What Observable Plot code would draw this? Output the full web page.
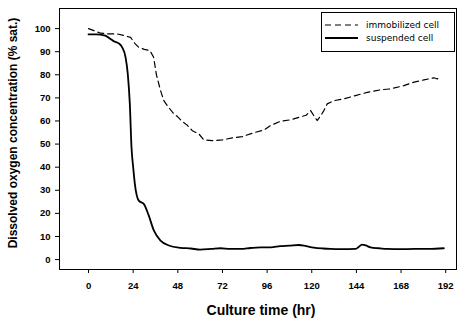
<!DOCTYPE html>
<html><head><meta charset="utf-8">
<script src="https://cdn.jsdelivr.net/npm/d3@7"></script>
<script src="https://cdn.jsdelivr.net/npm/@observablehq/plot@0.6"></script>
<style>body{margin:0;background:#fff} svg{display:block}</style>
</head><body><div id="chart"></div>
<script>
const seriesNames = ["immobilized cell", "suspended cell"];
const xTicks = [0, 24, 48, 72, 96, 120, 144, 168, 192];
const yTicks = [0, 10, 20, 30, 40, 50, 60, 70, 80, 90, 100];
const xTitle = "Culture time (hr)";
const yTitle = "Dissolved oxygen concentration (% sat.)";

const immobilizedTime = [0, 2.9, 6.5, 10.9, 15.4, 19, 22.6, 25, 27, 30, 33, 35, 36.5, 38.7, 40.5, 42.3, 45.9, 47.7, 50.4, 53, 55.8, 59.3, 62, 66.5, 71.9, 77.3, 82.6, 88, 94.3, 97.8, 103.2, 108.6, 114, 117, 119.4, 121.1, 122.9, 125, 126.5, 128.3, 131.9, 137.3, 143.5, 149.8, 157, 162.4, 169.5, 175, 180.3, 185.7, 187.5, 189];
const immobilizedValue = [100, 99.1, 98, 97.7, 97.7, 97, 96.2, 93.5, 91.9, 91, 90.5, 87.6, 80, 73.2, 68.8, 66.7, 63, 62, 59.8, 58.2, 55.8, 54.4, 51.8, 51.5, 51.8, 52.7, 53.2, 54.7, 56.1, 58, 59.9, 60.5, 61.8, 62.5, 64.5, 62.3, 60.2, 62.5, 64.5, 67.4, 68.8, 69.6, 71, 72.4, 73.5, 73.9, 75.3, 76.8, 77.8, 78.7, 78.2, 79];

const suspendedTime = [0, 4, 9, 11.8, 13.6, 16.3, 18.1, 19.9, 21.1, 22.2, 23.1, 24, 24.9, 27, 29.7, 32.4, 35.1, 38.7, 43.2, 49.5, 55, 60, 66, 71, 76, 82, 87, 92.5, 98, 103, 108, 113, 117, 121, 126, 130, 136, 143.5, 145, 147, 149, 151.6, 156, 160.6, 168, 175, 183, 191];
const suspendedValue = [97.5, 97.5, 97, 95.5, 94.5, 93.6, 91.9, 87.6, 80.4, 67.4, 48.6, 40, 32.8, 25.5, 24.1, 19, 12.6, 8.2, 6.1, 5.1, 4.8, 4.3, 4.6, 4.9, 4.6, 4.6, 5, 5.3, 5.3, 5.8, 6, 6.3, 5.8, 5.2, 4.8, 4.6, 4.5, 4.6, 5.3, 6.5, 6.1, 5.3, 4.9, 4.6, 4.5, 4.6, 4.6, 4.9];

const immobilized = immobilizedTime.map((t, i) => ({t, v: immobilizedValue[i]}));
const suspended = suspendedTime.map((t, i) => ({t, v: suspendedValue[i]}));

const chart = Plot.plot({
  width: 457, height: 322,
  marginLeft: 59, marginRight: 1, marginTop: 8, marginBottom: 53,
  style: {fontFamily: "'Liberation Sans', Arial, sans-serif", background: "#fff", color: "#000"},
  x: {domain: [-15.6, 197.8]},
  y: {domain: [-4.3, 108.7]},
  marks: [
    Plot.frame({stroke: "#000", strokeWidth: 1}),
    Plot.axisY(yTicks, {tickSize: 4, tickPadding: 5, fontSize: 9.5, fontWeight: "bold", label: null}),
    Plot.axisX(xTicks, {tickSize: 4, tickPadding: 9, fontSize: 9.5, fontWeight: "bold", label: null}),
    Plot.line(immobilized, {x: "t", y: "v", stroke: "#000", strokeWidth: 1.2, strokeDasharray: "6,4"}),
    Plot.line(suspended, {x: "t", y: "v", stroke: "#000", strokeWidth: 1.8, curve: "monotone-x"}),
    Plot.text([yTitle], {frameAnchor: "left", textAnchor: "middle", lineAnchor: "middle", dx: -46, dy: -6, rotate: -90, fontSize: 12, fontWeight: "bold"}),
    Plot.text([xTitle], {frameAnchor: "bottom", textAnchor: "middle", lineAnchor: "middle", dx: 3, dy: 41, fontSize: 14, fontWeight: "bold"})
  ]
});
document.getElementById("chart").appendChild(chart);

// legend box
const svg = d3.select(chart);
const g = svg.append("g").attr("font-family", "'DejaVu Sans', sans-serif")
  .attr("font-size", 9).attr("text-anchor", "start");
g.append("rect").attr("x", 321.5).attr("y", 12.5).attr("width", 133).attr("height", 39)
  .attr("fill", "#fff").attr("stroke", "#000").attr("stroke-width", 1);
const styles = [{w: 1.2, dash: "6,4"}, {w: 1.8, dash: null}];
seriesNames.forEach((name, i) => {
  const y = 25 + i * 13;
  g.append("line").attr("x1", 325).attr("x2", 358).attr("y1", y).attr("y2", y)
    .attr("stroke", "#000").attr("stroke-width", styles[i].w)
    .attr("stroke-dasharray", styles[i].dash);
  g.append("text").attr("x", 366).attr("y", y).attr("dy", "0.35em")
    .attr("text-anchor", "start").text(name);
});
</script>
</body></html>
